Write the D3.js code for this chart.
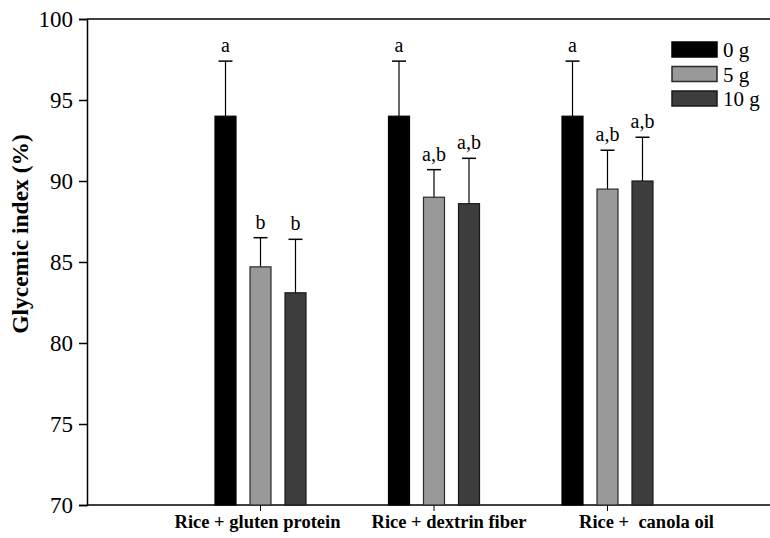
<!DOCTYPE html>
<html lang="en">
<head>
	<meta charset="UTF-8">
	<title>Glycemic index</title>
	<style>
		* {padding:0; margin:0;}
		body {background:#fff; overflow:hidden;}
		#myGraph {width:770px; height:538px; font-family:"Liberation Serif", serif;}
		.tickText {font-size:23px;}
		.catText {font-size:18.5px; font-weight:bold; text-anchor:middle;}
		.sigText {font-size:20px; text-anchor:middle;}
		.legText {font-size:21px;}
	</style>
</head>
<body>
<script src="https://d3js.org/d3.v7.min.js"></script>
<svg id="myGraph"></svg>
<script>
// data
var categories = ["Rice + gluten protein", "Rice + dextrin fiber", "Rice +  canola oil"];
var doses = ["0 g", "5 g", "10 g"];
var gi0 = [94.0, 94.0, 94.0];
var gi5 = [84.7, 89.0, 89.5];
var gi10 = [83.1, 88.6, 90.0];
var err0 = [3.4, 3.4, 3.4];
var err5 = [1.8, 1.7, 2.4];
var err10 = [3.3, 2.8, 2.7];
var sig0 = ["a", "a", "a"];
var sig5 = ["b", "a,b", "a,b"];
var sig10 = ["b", "a,b", "a,b"];
var yTicks = [70, 75, 80, 85, 90, 95, 100];

var fills = ["#000000", "#999999", "#3d3d3d"];
var strokes = ["#000000", "#2a2a2a", "#1a1a1a"];

var plotLeft = 87, plotTop = 19, plotBottom = 505, plotRight = 781;
var barWidth = 21, barStep = 35;

var svg = d3.select("#myGraph");

var yScale = d3.scaleLinear().domain([70, 100]).range([plotBottom, plotTop]);
var xScale = d3.scaleLinear().domain([0, 4]).range([plotLeft, plotRight]);

// build rows
var rows = [];
var vals = [gi0, gi5, gi10], errs = [err0, err5, err10], sigs = [sig0, sig5, sig10];
categories.forEach(function(c, i){
	doses.forEach(function(d, j){
		rows.push({cat:i, dose:j, v:vals[j][i], e:errs[j][i], s:sigs[j][i]});
	});
});
function cx(d){ return xScale(d.cat + 1) + (d.dose - 1) * barStep; }

// frame lines
svg.append("line").attr("x1", plotLeft).attr("x2", 770).attr("y1", plotTop).attr("y2", plotTop)
	.attr("stroke", "#000").attr("stroke-width", 1.5);
svg.append("line").attr("x1", plotLeft).attr("x2", 770).attr("y1", plotBottom).attr("y2", plotBottom)
	.attr("stroke", "#000").attr("stroke-width", 1.5);

// y axis
var yAxis = d3.axisLeft(yScale).tickValues(yTicks).tickSize(8).tickPadding(6);
var yg = svg.append("g").attr("transform", "translate(" + plotLeft + ",0)").call(yAxis);
yg.select(".domain").attr("stroke-width", 1.5);
yg.selectAll(".tick line").attr("stroke-width", 1.5);
yg.selectAll(".tick text").attr("class", "tickText").attr("fill", "#000")
	.style("font-family", "Liberation Serif").attr("dy", "0.34em");

// x ticks
svg.selectAll(".xtick").data(categories).enter().append("line")
	.attr("x1", function(d, i){ return xScale(i + 1); })
	.attr("x2", function(d, i){ return xScale(i + 1); })
	.attr("y1", plotBottom).attr("y2", plotBottom + 6)
	.attr("stroke", "#000").attr("stroke-width", 1);

var labelShift = [-3, 15, 39];
svg.selectAll(".catText").data(categories).enter().append("text")
	.attr("class", "catText")
	.attr("x", function(d, i){ return xScale(i + 1) + labelShift[i]; })
	.attr("y", 528)
	.style("white-space", "pre")
	.text(function(d){ return d; });

// y title
svg.append("text")
	.attr("transform", "translate(28," + 234 + ") rotate(-90)")
	.attr("text-anchor", "middle")
	.style("font-size", "23.5px").style("font-weight", "bold")
	.text("Glycemic index (%)");

// error bars
svg.selectAll(".errLine").data(rows).enter().append("line")
	.attr("x1", cx).attr("x2", cx)
	.attr("y1", function(d){ return yScale(d.v); })
	.attr("y2", function(d){ return yScale(d.v + d.e); })
	.attr("stroke", "#000").attr("stroke-width", 1.2);
svg.selectAll(".errCap").data(rows).enter().append("line")
	.attr("x1", function(d){ return cx(d) - 7; })
	.attr("x2", function(d){ return cx(d) + 7; })
	.attr("y1", function(d){ return yScale(d.v + d.e); })
	.attr("y2", function(d){ return yScale(d.v + d.e); })
	.attr("stroke", "#000").attr("stroke-width", 1.5);

// bars
svg.selectAll(".bar").data(rows).enter().append("rect")
	.attr("x", function(d){ return cx(d) - barWidth / 2; })
	.attr("y", function(d){ return yScale(d.v); })
	.attr("width", barWidth)
	.attr("height", function(d){ return plotBottom - yScale(d.v); })
	.attr("fill", function(d){ return fills[d.dose]; })
	.attr("stroke", function(d){ return strokes[d.dose]; })
	.attr("stroke-width", 1.2);

// letters
svg.selectAll(".sigText").data(rows).enter().append("text")
	.attr("class", "sigText")
	.attr("x", cx)
	.attr("y", function(d){ return yScale(d.v + d.e) - 9; })
	.text(function(d){ return d.s; });

// legend
var leg = svg.selectAll(".leg").data(doses).enter().append("g")
	.attr("transform", function(d, i){ return "translate(672," + (42 + i * 24.5) + ")"; });
leg.append("rect").attr("width", 45).attr("height", 15)
	.attr("fill", function(d, i){ return fills[i]; })
	.attr("stroke", function(d, i){ return strokes[i]; })
	.attr("stroke-width", 1.5);
leg.append("text").attr("class", "legText").attr("x", 51).attr("y", 15)
	.text(function(d){ return d; });
</script>
</body>
</html>
